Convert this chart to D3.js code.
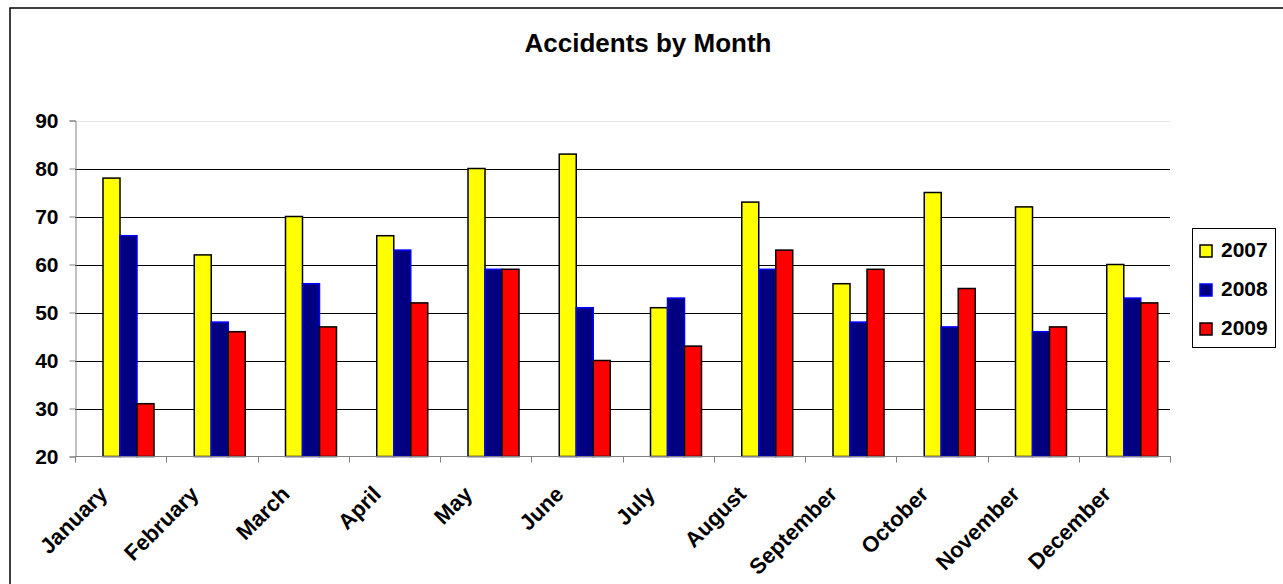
<!DOCTYPE html>
<html>
<head>
<meta charset="utf-8">
<script src="https://cdn.jsdelivr.net/npm/d3@7"></script>
<style>
  body { margin: 0; background: #fff; }
  svg text { font-family: "Liberation Sans", Arial, sans-serif; font-weight: bold; fill: #000; }
</style>
</head>
<body>
<div id="chart"></div>
<script>
"use strict";

// chart data
var months = ["January", "February", "March", "April", "May", "June",
              "July", "August", "September", "October", "November", "December"];
var years = ["2007", "2008", "2009"];
var accidents2007 = [78, 62, 70, 66, 80, 83, 51, 73, 56, 75, 72, 60];
var accidents2008 = [66, 48, 56, 63, 59, 51, 53, 59, 48, 47, 46, 53];
var accidents2009 = [31, 46, 47, 52, 59, 40, 43, 63, 59, 55, 47, 52];
var yTicks = [20, 30, 40, 50, 60, 70, 80, 90];

var seriesValues = [accidents2007, accidents2008, accidents2009];
var fills = ["#ffff00", "#000080", "#ff0000"];
var strokes = ["#000", "#0000ff", "#000"];

var width = 1283, height = 584;
var plot = { left: 75, right: 1170, top: 120.5, bottom: 456.5 };

var svg = d3.select("#chart").append("svg").attr("width", width).attr("height", height);

// outer chart border
svg.append("rect").attr("x", 10).attr("y", 8).attr("width", width + 10).attr("height", height + 10)
  .style("fill", "none").style("stroke", "#000").style("stroke-width", 1.5);

// title
svg.append("text").attr("x", 648).attr("y", 52).attr("text-anchor", "middle")
  .style("font-size", "26px").text("Accidents by Month");

// scales
var x = d3.scaleBand().domain(months).range([plot.left, plot.right]);
var y = d3.scaleLinear().domain([20, 90]).range([plot.bottom, plot.top]);
var barWidth = 17;
var groupOffset = 28;

// gridlines
svg.append("g").selectAll("line").data(yTicks.slice(1)).enter().append("line")
  .attr("x1", plot.left).attr("x2", plot.right)
  .attr("y1", function (d) { return Math.round(y(d)) + 0.5; })
  .attr("y2", function (d) { return Math.round(y(d)) + 0.5; })
  .style("stroke", function (d) { return d === 90 ? "#e8e8e8" : "#000"; })
  .style("stroke-width", 1);

// bars
seriesValues.forEach(function (values, s) {
  svg.append("g").selectAll("rect").data(values).enter().append("rect")
    .attr("x", function (d, i) { return x(months[i]) + groupOffset + s * barWidth; })
    .attr("width", barWidth)
    .attr("y", function (d) { return y(d); })
    .attr("height", function (d) { return plot.bottom - y(d); })
    .style("fill", fills[s]).style("stroke", strokes[s]).style("stroke-width", 1.5);
});

// y axis
var yAxis = svg.append("g").attr("transform", "translate(" + (plot.left + 0.5) + ",0)")
  .call(d3.axisLeft(y).tickValues(yTicks).tickSize(6).tickPadding(11));
yAxis.select(".domain").style("stroke", "#808080");
yAxis.selectAll(".tick line").style("stroke", "#808080");
yAxis.selectAll("text").style("font-size", "21px").style("font-family", null);

// x axis with ticks at the category boundaries
var xAxis = svg.append("g").attr("transform", "translate(0," + plot.bottom + ")");
xAxis.append("line").attr("x1", plot.left).attr("x2", plot.right + 1)
  .style("stroke", "#808080");
xAxis.selectAll(".bound").data(d3.range(months.length + 1)).enter().append("line")
  .attr("class", "bound")
  .attr("x1", function (i) { return Math.round(plot.left + i * x.step()) + 0.5; })
  .attr("x2", function (i) { return Math.round(plot.left + i * x.step()) + 0.5; })
  .attr("y1", 0).attr("y2", 6).style("stroke", "#808080");
xAxis.selectAll("text").data(months).enter().append("text")
  .attr("text-anchor", "end")
  .attr("transform", function (d) {
    return "translate(" + (x(d) + x.bandwidth() / 2 - 12) + ",39) rotate(-45)";
  })
  .style("font-size", "22px").text(function (d) { return d; });

// legend
var legend = svg.append("g");
legend.append("rect").attr("x", 1192.5).attr("y", 228.5).attr("width", 83).attr("height", 119)
  .style("fill", "#fff").style("stroke", "#000").style("stroke-width", 1);
var legendItems = legend.selectAll(".item").data(years).enter().append("g")
  .attr("transform", function (d, i) { return "translate(1200," + (245 + i * 39) + ")"; });
legendItems.append("rect").attr("width", 12).attr("height", 12)
  .style("fill", function (d, i) { return fills[i]; })
  .style("stroke", function (d, i) { return strokes[i]; }).style("stroke-width", 1.5);
legendItems.append("text").attr("x", 21).attr("y", 12).style("font-size", "21px")
  .text(function (d) { return d; });
</script>
</body>
</html>
